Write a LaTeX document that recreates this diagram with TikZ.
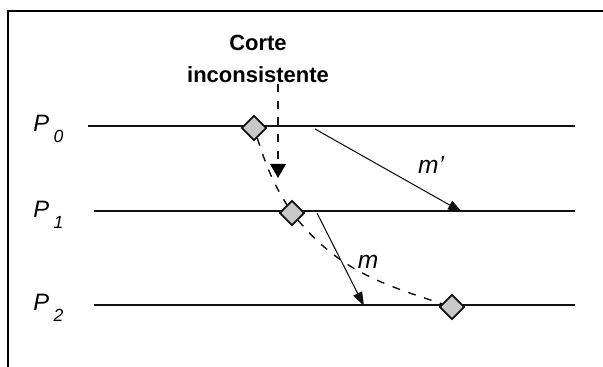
\documentclass[tikz,border=0pt]{standalone}
\usepackage{fontspec}
\setmainfont{Liberation Sans}
\usepackage{tikz}
\usetikzlibrary{shapes.geometric, arrows.meta, positioning, calc}
\definecolor{ink}{HTML}{111111}
\definecolor{dotfill}{HTML}{C8C8C8}
\newcommand{\procname}[1]{P\hspace{2.5pt}\raisebox{-6pt}{\fontsize{10}{12}\selectfont #1}}

\begin{document}
\begin{tikzpicture}[
  x=0.02cm, y=-0.02cm,
  every node/.style={align=center},
  proc/.style={font=\fontsize{13.5}{16}\selectfont\itshape, anchor=base west, inner sep=0pt},
  timeline/.style={line width=1pt, color=ink},
  ckpt/.style={diamond, draw=ink, fill=dotfill, line width=1pt,
    inner sep=0pt, minimum size=5mm},
  msg/.style={-{Triangle[length=8pt, width=5.5pt]}, line width=0.6pt, color=ink},
  cutline/.style={dashed, dash pattern=on 4.5pt off 5pt, line width=0.8pt, color=ink},
  lbl/.style={font=\fontsize{14}{16}\selectfont\itshape},
]
  \useasboundingbox (0,0) rectangle (603,367);
  \draw[line width=1.2pt] (8,367) -- (8,11) -- (603,11);

  % processes
  \node[proc] (p0) at (33,132) {\procname{0}};
  \node[proc] (p1) at (33,218) {\procname{1}};
  \node[proc] (p2) at (33,311) {\procname{2}};
  \coordinate (a0) at (88,126);  \coordinate (b0) at (575,126);
  \coordinate (a1) at (94,211);  \coordinate (b1) at (575,211);
  \coordinate (a2) at (94,305);  \coordinate (b2) at (575,305);
  \draw[timeline] (a0) -- (b0);
  \draw[timeline] (a1) -- (b1);
  \draw[timeline] (a2) -- (b2);

  % messages
  \coordinate (s0) at (315,129);  \coordinate (r1) at (462,212);
  \coordinate (s1) at (317,213);  \coordinate (r2) at (364,306);
  \draw[msg] (s0) -- (r1);
  \draw[msg] (s1) -- (r2);
  \node[lbl] (lm1) at (431,165) {m'};
  \node[lbl] (lm) at (368,262) {m};

  % cut
  \node[font=\fontsize{12.5}{18}\selectfont\bfseries] (cut) at (258,59) {Corte\\inconsistente};
  \coordinate (cuttop) at (278,84);
  \coordinate (cutbot) at (278,178);
  \draw[cutline] (cuttop) -- (278,165);
  \draw[-{Triangle[length=8pt, width=9pt]}, line width=0.8pt] (278,164) -- (cutbot);

  \node[ckpt] (c0) at (254,128) {};
  \node[ckpt] (c1) at (292,213) {};
  \node[ckpt] (c2) at (452,307) {};
  \draw[cutline] (c0) to[out=-72, in=122] (c1);
  \draw[cutline] (c1) to[out=-50, in=162] (c2);
\end{tikzpicture}
\end{document}
